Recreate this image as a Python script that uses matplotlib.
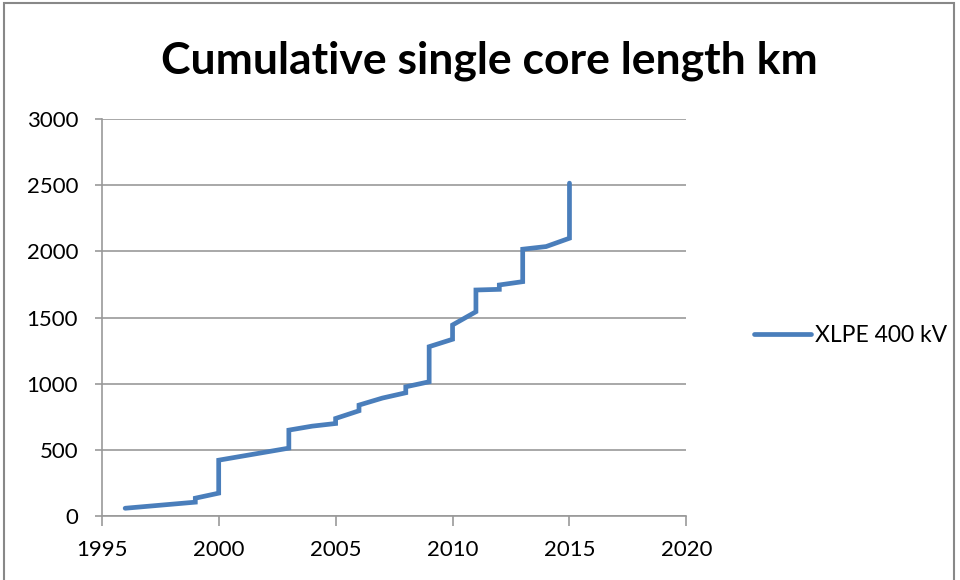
import numpy as np
import matplotlib.pyplot as plt
from matplotlib.patches import Rectangle

# cumulative length, step-like series
years = [1996, 1999, 1999, 2000, 2000, 2003, 2003, 2004, 2005, 2005, 2006, 2006,
         2007, 2008, 2008, 2009, 2009, 2010, 2010, 2011, 2011, 2012, 2012, 2013,
         2013, 2014, 2015, 2015]
length_km = [60, 106, 136, 174, 423, 514, 650, 680, 700, 738, 796, 839,
             892, 932, 977, 1015, 1280, 1336, 1444, 1544, 1708, 1713, 1746, 1771,
             2016, 2036, 2099, 2515]
series_name = 'XLPE 400 kV'
title = 'Cumulative single core length km'

plt.rcParams['font.family'] = ['Lato', 'DejaVu Sans']

fig = plt.figure(figsize=(9.6, 5.8), dpi=100)
ax = fig.add_axes([0.106, 0.110, 0.609, 0.685])

ax.plot(years, length_km, color='#4A7EBB', lw=3.4, solid_capstyle='round',
        solid_joinstyle='miter', label=series_name)

ax.set_xlim(1995, 2020)
ax.set_ylim(0, 3000)
ax.set_xticks(np.arange(1995, 2021, 5))
ax.set_yticks(np.arange(0, 3001, 500))
ax.yaxis.grid(True, color='#999999', lw=1.2)
ax.set_axisbelow(True)

for s in ['top', 'right']:
    ax.spines[s].set_visible(False)
for s in ['left', 'bottom']:
    ax.spines[s].set_color('#999999')
    ax.spines[s].set_linewidth(1.2)

ax.tick_params(axis='x', length=7, width=1.2, color='#999999', labelsize=16, pad=10)
ax.tick_params(axis='y', length=5, width=1.2, color='#999999', labelsize=16, pad=12)

fig.text(0.51, 0.895, title, ha='center', va='center', fontsize=32, fontweight='bold')

ax.legend(loc='center left', bbox_to_anchor=(1.08, 0.456), frameon=False,
          fontsize=16.5, handlelength=2.5, handletextpad=0.15)

fig.patches.append(Rectangle((0.004, -0.01), 0.99, 1.005, transform=fig.transFigure,
                             fill=False, edgecolor='#888888', lw=1.5))

fig.savefig('out.png', dpi=100)
